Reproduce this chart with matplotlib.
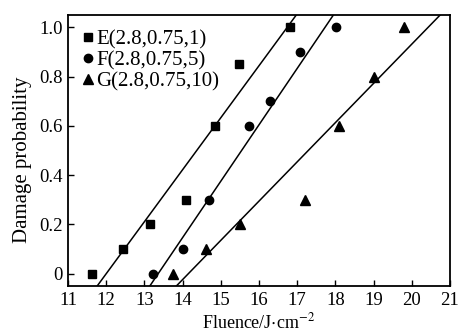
import numpy as np
import matplotlib
matplotlib.use('Agg')
import matplotlib.pyplot as plt

e_fluence = [11.62, 12.45, 13.15, 14.1, 14.85, 15.48, 16.8]
e_prob = [0.0, 0.1, 0.2, 0.3, 0.6, 0.85, 1.0]

f_fluence = [13.22, 14.02, 14.68, 15.73, 16.3, 17.08, 18.02]
f_prob = [0.0, 0.1, 0.3, 0.6, 0.7, 0.9, 1.0]

g_fluence = [13.75, 14.62, 15.5, 17.2, 18.1, 19.0, 19.8]
g_prob = [0.0, 0.1, 0.2, 0.3, 0.6, 0.8, 1.0]

labels = ['E(2.8,0.75,1)', 'F(2.8,0.75,5)', 'G(2.8,0.75,10)']

# fitted lines: fluence at probability 0 and at probability 1
fit_at0 = [12.0, 13.36, 14.15]
fit_at1 = [16.74, 17.73, 20.43]

xticks = [11, 12, 13, 14, 15, 16, 17, 18, 19, 20, 21]
yticks = [0, 0.2, 0.4, 0.6, 0.8, 1.0]
yticklabels = ['0', '0.2', '0.4', '0.6', '0.8', '1.0']

plt.rcParams['font.family'] = ['Liberation Serif', 'DejaVu Serif']
plt.rcParams['mathtext.fontset'] = 'stix'

fig = plt.figure(figsize=(4.61, 3.33), dpi=100)
ax = fig.add_axes([0.1475, 0.141, 0.8285, 0.814])

ax.plot(e_fluence, e_prob, 's', color='black', markersize=5.5, label=labels[0])
ax.plot(f_fluence, f_prob, 'o', color='black', markersize=6, label=labels[1])
ax.plot(g_fluence, g_prob, '^', color='black', markersize=7, label=labels[2])

# extend each fit line across the axes
p = np.array([-0.2, 1.3])
for x0, x1 in zip(fit_at0, fit_at1):
    ax.plot(x0 + p * (x1 - x0), p, '-', color='black', linewidth=1.1)

ax.set_xlim(11, 21)
ax.set_ylim(-0.05, 1.05)
ax.set_xticks(xticks)
ax.set_yticks(yticks)
ax.set_yticklabels(yticklabels)
ax.tick_params(direction='in', length=4, width=1, labelsize=13.5, pad=4)
for s in ax.spines.values():
    s.set_linewidth(1.3)

ax.set_xlabel('Fluence/J$\\cdot$cm$^{-2}$', fontsize=13, labelpad=3)
ax.set_ylabel('Damage probability', fontsize=15)
ax.yaxis.set_label_coords(-0.094, 0.465)

ax.legend(loc='upper left', frameon=False, fontsize=15, handlelength=0.5,
          handletextpad=0.15, labelspacing=0.08, borderaxespad=0.3,
          bbox_to_anchor=(0.0, 1.0))

fig.savefig('out.png', dpi=100)
